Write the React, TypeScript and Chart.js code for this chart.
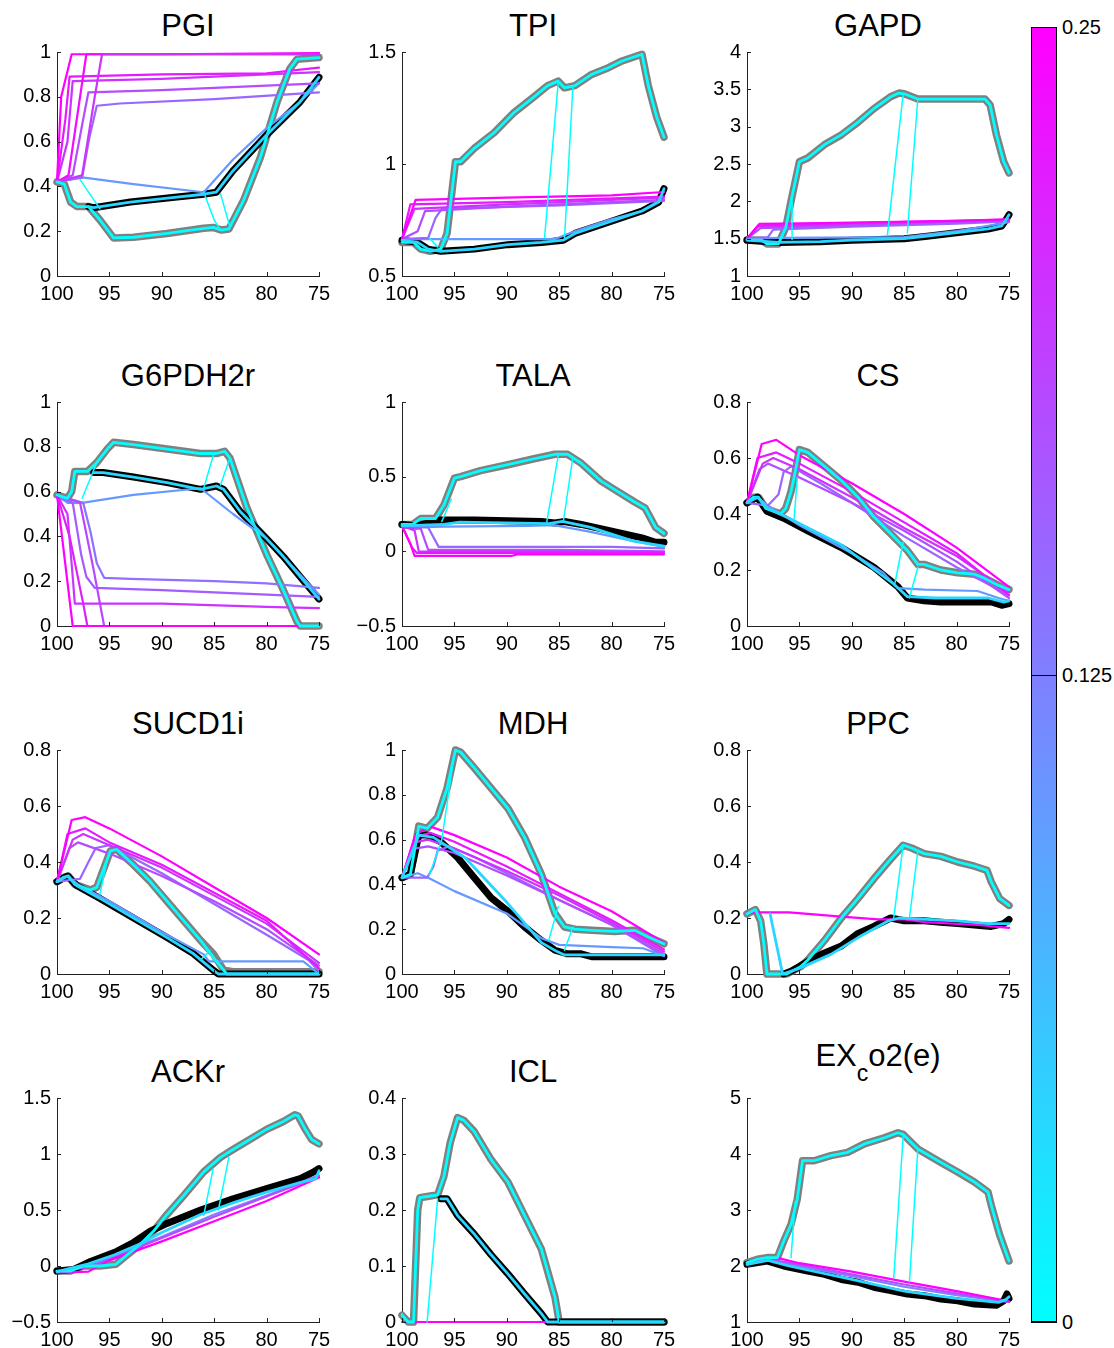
import React, { useEffect, useRef } from "react";
import { Chart, registerables } from "chart.js";
Chart.register(...registerables);

type P = [number, number][];

const FONT = '"Liberation Sans", Arial, Helvetica, sans-serif';
const X_MIN = 75;
const X_MAX = 100;
const X_STEP = 5;
const COLORBAR_MAX = 0.25;
const COLORBAR_TICKS = [0.25, 0.125, 0];
const LOWER_INNER_LEVEL = 0.04;

// ---------- PGI ----------
const PGI_UPPER: P = [[100,0.42],[99.3,0.41],[98.7,0.33],[98.1,0.31],[97,0.31],[95.9,0.25],[94.6,0.17],[92.7,0.173],[89.5,0.19],[86,0.213],[85.1,0.217],[84.3,0.205],[83.6,0.21],[82.2,0.337],[80.6,0.528],[79,0.777],[77.8,0.924],[77.1,0.968],[75,0.975]];
const PGI_LOWER: P = [[97,0.31],[96.5,0.305],[93,0.33],[89,0.35],[86,0.365],[84.8,0.374],[83.2,0.47],[80,0.63],[76.8,0.777],[75,0.887]];
const PGI_LINKS: P[] = [[[97.8,0.43],[95.9,0.30]],[[86,0.374],[85,0.25],[84.4,0.205]],[[84.4,0.367],[83.5,0.22]]];
const PGI_LEVELS = [0.1,0.15,0.175,0.2,0.225,0.25,0.24,0.2];
const PGI_LINES: P[] = [
  [[100,0.42],[97.6,0.44],[92.7,0.41],[86,0.374],[83.2,0.52],[80,0.66],[77,0.77],[75,0.86]],
  [[100,0.42],[97.6,0.44],[96.9,0.62],[96.2,0.76],[94,0.77],[85,0.79],[75,0.82]],
  [[100,0.42],[98.5,0.45],[97.5,0.70],[97,0.82],[90,0.83],[75,0.86]],
  [[100,0.42],[99,0.6],[98.5,0.87],[90,0.88],[75,0.91]],
  [[100,0.42],[99.2,0.7],[98.8,0.89],[90,0.9],[80,0.905],[75,0.93]],
  [[100,0.42],[99.6,0.8],[98.6,0.99],[90,0.99],[75,0.995]],
  [[100,0.42],[98.9,0.45],[97.2,0.99],[75,0.99]],
  [[100,0.42],[97.6,0.45],[96.4,0.8],[95.7,0.99],[75,0.99]],
];

// ---------- TPI ----------
const TPI_UPPER: P = [[100,0.65],[98.9,0.65],[98.2,0.62],[97.3,0.61],[96.3,0.62],[95.7,0.69],[94.9,1.01],[94.4,1.01],[93.1,1.07],[91.2,1.14],[89.3,1.23],[87.4,1.30],[86.1,1.35],[85.1,1.37],[84.5,1.34],[83.5,1.35],[81.9,1.40],[80.3,1.43],[79,1.46],[77.1,1.49],[76.5,1.35],[75.7,1.21],[75,1.12]];
const TPI_LOWER: P = [[100,0.66],[98.5,0.65],[97.5,0.62],[96.3,0.61],[93.1,0.62],[89.9,0.64],[86.7,0.65],[84.6,0.66],[83.5,0.69],[80.3,0.74],[77.1,0.79],[75.5,0.83],[75,0.89]];
const TPI_LINKS: P[] = [[[86.4,0.67],[85.1,1.36]],[[84.5,0.66],[83.7,1.34]],[[97.4,0.67],[96.6,0.63]]];
const TPI_LEVELS = [0.1,0.15,0.175,0.2,0.225,0.25];
const TPI_LINES: P[] = [
  [[100,0.665],[85.4,0.665],[83.5,0.70],[80.3,0.75],[77.1,0.79],[75,0.85]],
  [[100,0.665],[97.5,0.67],[96.8,0.76],[96.2,0.80],[85,0.815],[75,0.835]],
  [[100,0.665],[98.5,0.70],[97.8,0.79],[90,0.81],[75,0.84]],
  [[100,0.665],[98.8,0.80],[90,0.82],[75,0.85]],
  [[100,0.665],[99.2,0.82],[90,0.83],[75,0.855]],
  [[100,0.665],[98.7,0.84],[90,0.85],[80,0.86],[75,0.875]],
];

// ---------- GAPD ----------
const GAPD_UPPER: P = [[100,1.485],[98.6,1.48],[98.1,1.43],[97,1.43],[96.3,1.65],[95.8,2.0],[95,2.53],[94.2,2.58],[92.6,2.76],[91,2.89],[89.4,3.06],[87.9,3.24],[86.3,3.40],[85.5,3.45],[85,3.44],[83.7,3.37],[77.3,3.37],[76.8,3.29],[76.2,2.89],[75.5,2.53],[75,2.38]];
const GAPD_LOWER: P = [[100,1.48],[97,1.45],[93,1.46],[90,1.48],[85,1.50],[83,1.53],[80,1.58],[77,1.63],[75.7,1.67],[75.3,1.75],[75,1.82]];
const GAPD_LINKS: P[] = [[[95.7,1.49],[95.7,2.0]],[[86.6,1.55],[85.1,3.44]],[[84.7,1.58],[83.7,3.37]]];
const GAPD_LEVELS = [0.1,0.15,0.175,0.2,0.225,0.25];
const GAPD_LINES: P[] = [
  [[100,1.5],[97,1.51],[85,1.52],[80,1.60],[75,1.72]],
  [[100,1.5],[98,1.52],[97.5,1.62],[90,1.66],[80,1.70],[75,1.73]],
  [[100,1.5],[98.7,1.64],[90,1.68],[75,1.74]],
  [[100,1.5],[99,1.66],[90,1.70],[75,1.75]],
  [[100,1.5],[98.9,1.68],[90,1.71],[75,1.755]],
  [[100,1.5],[98.8,1.70],[93,1.71],[80,1.74],[75,1.76]],
];

// ---------- G6PDH2r ----------
const G6P_UPPER: P = [[100,0.585],[99,0.57],[98.6,0.60],[98.3,0.69],[97.1,0.69],[96.2,0.73],[95.2,0.79],[94.6,0.82],[92.7,0.81],[89.5,0.79],[86.3,0.77],[84.8,0.77],[84,0.78],[83.5,0.75],[81.9,0.53],[80,0.32],[78.4,0.16],[77.1,0.02],[76.8,0],[75,0]];
const G6P_LOWER: P = [[96.5,0.685],[95.6,0.685],[92.7,0.665],[89.5,0.64],[86.3,0.61],[84.8,0.625],[84.1,0.61],[82.5,0.51],[80,0.39],[78.4,0.31],[76.8,0.22],[75,0.12]];
const G6P_LINKS: P[] = [[[97.6,0.57],[96.2,0.73]],[[86,0.615],[85.1,0.76]],[[84.4,0.63],[83.5,0.75]]];
const G6P_LEVELS = [0.1,0.14,0.16,0.18,0.2,0.22,0.25];
const G6P_LINES: P[] = [
  [[100,0.585],[99,0.55],[97.6,0.55],[92.7,0.585],[86.3,0.615],[83.2,0.50],[80,0.39],[75,0.14]],
  [[100,0.585],[97.5,0.55],[96.8,0.42],[96.2,0.28],[95.5,0.215],[93,0.21],[85,0.20],[80,0.19],[75,0.17]],
  [[100,0.585],[98.5,0.55],[97.7,0.32],[97.2,0.22],[96.4,0.17],[90,0.16],[80,0.14],[75,0.13]],
  [[100,0.585],[97.8,0.55],[96.5,0.25],[95.5,0.0],[75,0.0]],
  [[100,0.585],[99,0.50],[98.5,0.22],[98.3,0.10],[90,0.10],[80,0.085],[75,0.08]],
  [[100,0.585],[98.8,0.40],[97.5,0.1],[97.1,0],[75,0]],
  [[100,0.585],[98.5,0.0],[75,0.0]],
];

// ---------- TALA ----------
const TALA_UPPER: P = [[100,0.18],[99,0.18],[98.2,0.22],[96.8,0.22],[96,0.31],[95,0.49],[94.4,0.50],[92.5,0.54],[89.9,0.58],[87.4,0.62],[85.4,0.65],[84.2,0.65],[82.9,0.59],[81,0.47],[79.4,0.40],[77.8,0.33],[76.8,0.29],[75.8,0.16],[75,0.12]];
const TALA_LOWER: P = [[100,0.18],[98.6,0.17],[96.3,0.21],[93.1,0.21],[86.7,0.20],[85.4,0.19],[84.5,0.20],[82.9,0.18],[80.3,0.14],[77.1,0.09],[75.8,0.06],[75,0.06]];
const TALA_LOWER_INNER: P = [[100,0.17],[96,0.18],[94.5,0.195],[86,0.185],[84.7,0.2],[82,0.16],[78,0.07],[75,0.035]];
const TALA_LINKS: P[] = [[[86.2,0.19],[85.1,0.64]],[[84.6,0.20],[83.7,0.63]],[[96.2,0.2],[95.3,0.35]]];
const TALA_LEVELS = [0.1,0.15,0.175,0.2,0.225,0.25];
const TALA_LINES: P[] = [
  [[100,0.17],[99,0.16],[96,0.165],[88,0.17],[85.5,0.175],[82,0.13],[78,0.07],[75,0.03]],
  [[100,0.17],[97.5,0.16],[96.5,0.03],[90,0.03],[80,0.03],[75,0.02]],
  [[100,0.17],[98.2,0.15],[97.5,0.01],[85,0.01],[75,0.0]],
  [[100,0.17],[98.8,0.14],[98.4,0.0],[75,-0.005]],
  [[100,0.17],[99,0.02],[98.6,-0.01],[75,-0.01]],
  [[100,0.17],[99.2,0.05],[98.8,-0.03],[89.5,-0.03],[89,-0.02],[75,-0.02]],
];

// ---------- CS ----------
const CS_UPPER: P = [[100,0.44],[99.4,0.46],[98.9,0.46],[98.2,0.42],[96.8,0.40],[96.3,0.42],[95.8,0.48],[95.4,0.55],[95,0.63],[94.2,0.62],[92.6,0.57],[91,0.52],[89.4,0.46],[87.9,0.39],[86.3,0.33],[84.7,0.27],[83.7,0.22],[83.1,0.22],[81.5,0.20],[79.9,0.19],[78.3,0.185],[77.3,0.17],[76,0.145],[75,0.13]];
const CS_LOWER: P = [[100,0.44],[99,0.46],[98.1,0.41],[96.5,0.385],[94.2,0.34],[91,0.28],[87.9,0.21],[85.6,0.14],[84.7,0.10],[83.1,0.09],[81.5,0.086],[76.7,0.086],[75.7,0.074],[75,0.08]];
const CS_LOWER_INNER: P = [[100,0.44],[99,0.46],[98,0.42],[96,0.385],[91,0.29],[86,0.15],[84.7,0.105],[82,0.10],[77,0.10],[75.5,0.085],[75,0.09]];
const CS_LINKS: P[] = [[[85.9,0.15],[85.1,0.30]],[[84.5,0.10],[83.7,0.21]],[[95.5,0.385],[95.2,0.53]]];
const CS_LEVELS = [0.1,0.15,0.175,0.2,0.225,0.25];
const CS_LINES: P[] = [
  [[100,0.44],[99,0.46],[98,0.43],[95,0.36],[90,0.26],[87,0.19],[85.6,0.135],[83,0.13],[78,0.125],[76,0.10],[75,0.09]],
  [[100,0.44],[98,0.43],[97,0.47],[96.5,0.55],[95.8,0.57],[93,0.51],[90,0.44],[85,0.32],[80,0.21],[75,0.11]],
  [[100,0.44],[98.8,0.56],[98,0.58],[95,0.53],[90,0.44],[85,0.34],[80,0.23],[75,0.10]],
  [[100,0.44],[98.5,0.58],[97.5,0.60],[95,0.56],[90,0.46],[85,0.35],[80,0.25],[75,0.12]],
  [[100,0.44],[99,0.60],[97.2,0.62],[95,0.58],[90,0.48],[85,0.37],[80,0.26],[75,0.11]],
  [[100,0.44],[98.6,0.65],[97.2,0.665],[95,0.61],[90,0.51],[85,0.40],[80,0.28],[75,0.14]],
];

// ---------- SUCD1i ----------
const SUCD_UPPER: P = [[100,0.33],[99.4,0.345],[98.9,0.35],[98.3,0.32],[96.8,0.30],[96.2,0.31],[95.6,0.37],[94.9,0.44],[94.3,0.445],[92.7,0.39],[91.1,0.33],[89.5,0.26],[87.9,0.19],[86.3,0.12],[85.1,0.073],[84.1,0.014],[83.2,0.008],[75,0.008]];
const SUCD_UPPER_INNER: P = [[100,0.33],[99.4,0.345],[98.9,0.35],[98.3,0.32],[96.8,0.30],[96.2,0.31],[95.6,0.37],[94.9,0.44],[94.3,0.445],[92.7,0.39],[91.1,0.33],[89.5,0.26],[87.9,0.19],[86.3,0.12],[85.1,0.06],[83.8,0],[75,0]];
const SUCD_LOWER: P = [[100,0.33],[99,0.35],[98.1,0.315],[95.9,0.27],[92.7,0.20],[89.5,0.13],[87,0.073],[85.1,0.014],[84.6,0],[75,0]];
const SUCD_LINKS: P[] = [[[95.9,0.285],[95.2,0.41]],[[86.3,0.05],[85.4,0.085]]];
const SUCD_LEVELS = [0.1,0.15,0.175,0.2,0.225,0.25];
const SUCD_LINES: P[] = [
  [[100,0.33],[99,0.35],[98,0.32],[95,0.26],[90,0.15],[86,0.07],[85.5,0.045],[83,0.045],[76.5,0.045],[75,0.0]],
  [[100,0.33],[97.8,0.34],[97,0.40],[96.3,0.45],[95,0.46],[90,0.36],[85,0.25],[80,0.14],[76,0.05],[75,0.01]],
  [[100,0.33],[98.8,0.45],[98,0.47],[95,0.43],[90,0.35],[85,0.26],[80,0.16],[75,0.03]],
  [[100,0.33],[98.5,0.48],[97.5,0.50],[95,0.46],[90,0.38],[85,0.28],[80,0.18],[75,0.04]],
  [[100,0.33],[99,0.50],[97.3,0.52],[95,0.47],[90,0.39],[85,0.29],[80,0.19],[75,0.02]],
  [[100,0.33],[98.6,0.55],[97.3,0.56],[95,0.52],[90,0.42],[85,0.31],[80,0.20],[75,0.07]],
];

// ---------- MDH ----------
const MDH_UPPER: P = [[100,0.43],[99.2,0.445],[98.4,0.66],[97.6,0.65],[96.6,0.70],[95.7,0.83],[94.9,1.0],[94.4,0.99],[93.1,0.92],[91.5,0.83],[89.9,0.74],[88.3,0.61],[86.7,0.445],[85.4,0.27],[84.5,0.21],[83.5,0.20],[81.9,0.195],[79.7,0.19],[77.8,0.195],[76.5,0.165],[75,0.135]];
const MDH_LOWER: P = [[100,0.43],[99.2,0.445],[98.4,0.62],[97.6,0.62],[96.3,0.59],[94.7,0.52],[93.1,0.43],[91.5,0.34],[89.9,0.28],[88.3,0.21],[86.7,0.15],[85.4,0.106],[84.2,0.09],[82.9,0.09],[81.9,0.077],[75,0.077]];
const MDH_LOWER_INNER: P = [[100,0.43],[98.4,0.62],[97,0.61],[94,0.52],[90,0.32],[86.7,0.14],[85.2,0.10],[84.5,0.085],[75,0.085]];
const MDH_LINKS: P[] = [[[86,0.15],[85.1,0.30]],[[84.5,0.106],[83.7,0.21]],[[97.4,0.44],[96.2,0.6],[95.2,0.92]]];
const MDH_LEVELS = [0.1,0.15,0.175,0.2,0.225,0.25];
const MDH_LINES: P[] = [
  [[100,0.43],[98.5,0.45],[97.5,0.43],[95,0.37],[90,0.27],[86.7,0.16],[85,0.13],[80,0.12],[77,0.115],[75,0.08]],
  [[100,0.43],[97.6,0.43],[97,0.48],[96.6,0.55],[95.5,0.57],[93,0.52],[90,0.45],[85,0.33],[80,0.22],[75,0.08]],
  [[100,0.43],[98.8,0.56],[97.5,0.57],[95,0.54],[90,0.44],[85,0.33],[80,0.22],[75,0.09]],
  [[100,0.43],[98.6,0.59],[97.5,0.60],[95,0.56],[90,0.46],[85,0.35],[80,0.23],[75,0.10]],
  [[100,0.43],[98.8,0.61],[97.3,0.63],[95,0.59],[90,0.48],[85,0.36],[80,0.24],[75,0.11]],
  [[100,0.43],[98.7,0.62],[97.4,0.66],[95,0.62],[90,0.52],[85,0.39],[80,0.28],[75,0.14]],
];

// ---------- PPC ----------
const PPC_UPPER: P = [[100,0.215],[99.2,0.23],[98.7,0.19],[98.4,0.11],[98.1,0],[96.2,0],[95.8,0.008],[94.9,0.026],[94.2,0.05],[92.6,0.12],[91,0.20],[89.4,0.27],[87.9,0.34],[86.3,0.41],[85.1,0.46],[84.3,0.45],[83.1,0.43],[81.5,0.42],[79.9,0.40],[78.3,0.385],[77.1,0.37],[76.7,0.33],[75.9,0.27],[75,0.245]];
const PPC_LOWER: P = [[96.5,0],[95.8,0.01],[94.2,0.045],[92.6,0.075],[91,0.10],[89.4,0.145],[87.9,0.17],[86.3,0.20],[85,0.19],[83.1,0.19],[81.5,0.185],[79.9,0.18],[78.3,0.175],[76.7,0.17],[75.5,0.18],[75,0.195]];
const PPC_LOWER_INNER: P = [[97.8,0.215],[96.6,0],[95,0.02],[92,0.07],[89.4,0.13],[86.5,0.19],[85.5,0.20],[80,0.19],[77,0.18],[75,0.18]];
const PPC_LINKS: P[] = [[[86,0.20],[85.1,0.46]],[[84.5,0.2],[83.7,0.44]]];
const PPC_LEVELS = [0.25];
const PPC_LINES: P[] = [
  [[100,0.22],[96,0.22],[94.2,0.215],[91,0.205],[87.5,0.195],[85,0.195],[83,0.185],[78,0.175],[75,0.165]],
];

// ---------- ACKr ----------
const ACK_UPPER: P = [[100,-0.045],[98.7,-0.045],[97.5,0.0],[95.9,0.0],[94.4,0.015],[93.3,0.10],[92.1,0.19],[90.8,0.31],[89.5,0.46],[87.9,0.63],[86,0.84],[84.4,0.97],[83.2,1.04],[81.6,1.13],[80,1.22],[78.4,1.29],[77.3,1.35],[77,1.34],[76.3,1.22],[75.7,1.13],[75,1.09]];
const ACK_LOWER: P = [[100,-0.045],[98.4,-0.03],[96.8,0.04],[94.3,0.13],[92.7,0.21],[91.1,0.31],[89.5,0.38],[86.3,0.50],[83.2,0.60],[80,0.69],[76.8,0.78],[75.5,0.84],[75,0.87]];
const ACK_LOWER_INNER: P = [[100,-0.05],[97,0.02],[94.5,0.10],[92,0.2],[90,0.3],[86.3,0.46],[83,0.57],[80,0.66],[77,0.74],[75.3,0.78],[75,0.85]];
const ACK_LINKS: P[] = [[[86,0.45],[85.1,0.87]],[[84.6,0.50],[83.6,0.97]]];
const ACK_LEVELS = [0.125,0.175,0.25];
const ACK_LINES: P[] = [
  [[100,-0.05],[97,0.0],[95,0.07],[90,0.26],[85,0.46],[80,0.63],[75,0.81]],
  [[100,-0.05],[97,-0.01],[95,0.06],[90,0.25],[85,0.44],[80,0.62],[75,0.80]],
  [[100,-0.06],[97,-0.05],[95,0.05],[90,0.22],[85,0.40],[80,0.58],[75,0.79]],
];

// ---------- ICL ----------
const ICL_UPPER: P = [[100,0.012],[99.4,0.0],[98.9,0.0],[98.5,0.2],[98.3,0.222],[97.3,0.225],[96.6,0.227],[96,0.26],[95.4,0.32],[94.7,0.365],[94.1,0.36],[93.1,0.34],[91.5,0.29],[89.9,0.25],[88.3,0.19],[86.7,0.13],[85.4,0.044],[85,0],[75,0]];
const ICL_LOWER: P = [[96.3,0.22],[95.7,0.22],[94.7,0.19],[93.1,0.157],[91.5,0.12],[89.9,0.086],[88.3,0.05],[86.7,0.015],[86.1,0],[75,0]];
const ICL_LINKS: P[] = [[[97.6,0],[96.6,0.22]],[[100,0.015],[99.5,0]]];
const ICL_LEVELS = [0.25];
const ICL_LINES: P[] = [[[100,0],[75,0]]];

// ---------- EX_co2(e) ----------
const CO2_UPPER: P = [[100,2.06],[99,2.12],[98.1,2.15],[97.1,2.15],[96.5,2.44],[95.8,2.74],[95.2,3.2],[94.7,3.88],[93.6,3.88],[92,3.97],[90.4,4.03],[88.8,4.18],[86.9,4.29],[85.6,4.38],[85.1,4.35],[83.7,4.09],[81.5,3.85],[79.9,3.68],[78.3,3.5],[77,3.32],[76.7,3.09],[75.9,2.56],[75,2.09]];
const CO2_LOWER: P = [[100,2.03],[98.1,2.09],[96.5,2.0],[94.2,1.91],[92.6,1.85],[91,1.76],[89.4,1.71],[87.9,1.62],[86.3,1.56],[84.7,1.50],[83.1,1.47],[81.5,1.41],[79.9,1.38],[78.3,1.32],[76.2,1.30],[75.5,1.38],[75.2,1.50],[75,1.42]];
const CO2_LOWER_INNER: P = [[100,2.03],[98,2.1],[96,2.0],[90,1.76],[85,1.55],[80,1.42],[76,1.35],[75.3,1.40],[75,1.45]];
const CO2_LINKS: P[] = [[[95.8,2.15],[95.4,3.15]],[[86,1.78],[85.1,4.32]],[[84.5,1.72],[83.7,4.09]]];
const CO2_LEVELS = [0.125,0.175,0.25];
const CO2_LINES: P[] = [
  [[100,2.03],[98,2.11],[96,2.03],[90,1.82],[85,1.63],[80,1.48],[75,1.36]],
  [[100,2.03],[98,2.12],[96,2.06],[90,1.85],[85,1.67],[80,1.51],[75,1.36]],
  [[100,2.03],[98,2.13],[97,2.14],[95,2.05],[90,1.90],[85,1.72],[80,1.55],[75,1.37]],
];

type Cfg = {
  key: string; title: React.ReactNode; titleShift?: number;
  yMin: number; yMax: number; yStep: number;
  upper: P; upperInner?: P; lower: P; lowerInner?: P; links: P[]; lines: P[]; levels: number[];
};

const PANELS: Cfg[] = [
  { key: "PGI", title: "PGI", yMin: 0, yMax: 1, yStep: 0.2, upper: PGI_UPPER, lower: PGI_LOWER, links: PGI_LINKS, lines: PGI_LINES, levels: PGI_LEVELS },
  { key: "TPI", title: "TPI", yMin: 0.5, yMax: 1.5, yStep: 0.5, upper: TPI_UPPER, lower: TPI_LOWER, links: TPI_LINKS, lines: TPI_LINES, levels: TPI_LEVELS },
  { key: "GAPD", title: "GAPD", yMin: 1, yMax: 4, yStep: 0.5, upper: GAPD_UPPER, lower: GAPD_LOWER, links: GAPD_LINKS, lines: GAPD_LINES, levels: GAPD_LEVELS },
  { key: "G6PDH2r", title: "G6PDH2r", yMin: 0, yMax: 1, yStep: 0.2, upper: G6P_UPPER, lower: G6P_LOWER, links: G6P_LINKS, lines: G6P_LINES, levels: G6P_LEVELS },
  { key: "TALA", title: "TALA", yMin: -0.5, yMax: 1, yStep: 0.5, upper: TALA_UPPER, lower: TALA_LOWER, lowerInner: TALA_LOWER_INNER, links: TALA_LINKS, lines: TALA_LINES, levels: TALA_LEVELS },
  { key: "CS", title: "CS", yMin: 0, yMax: 0.8, yStep: 0.2, upper: CS_UPPER, lower: CS_LOWER, lowerInner: CS_LOWER_INNER, links: CS_LINKS, lines: CS_LINES, levels: CS_LEVELS },
  { key: "SUCD1i", title: "SUCD1i", yMin: 0, yMax: 0.8, yStep: 0.2, upper: SUCD_UPPER, upperInner: SUCD_UPPER_INNER, lower: SUCD_LOWER, links: SUCD_LINKS, lines: SUCD_LINES, levels: SUCD_LEVELS },
  { key: "MDH", title: "MDH", yMin: 0, yMax: 1, yStep: 0.2, upper: MDH_UPPER, lower: MDH_LOWER, lowerInner: MDH_LOWER_INNER, links: MDH_LINKS, lines: MDH_LINES, levels: MDH_LEVELS },
  { key: "PPC", title: "PPC", yMin: 0, yMax: 0.8, yStep: 0.2, upper: PPC_UPPER, lower: PPC_LOWER, lowerInner: PPC_LOWER_INNER, links: PPC_LINKS, lines: PPC_LINES, levels: PPC_LEVELS },
  { key: "ACKr", title: "ACKr", yMin: -0.5, yMax: 1.5, yStep: 0.5, upper: ACK_UPPER, lower: ACK_LOWER, lowerInner: ACK_LOWER_INNER, links: ACK_LINKS, lines: ACK_LINES, levels: ACK_LEVELS },
  { key: "ICL", title: "ICL", yMin: 0, yMax: 0.4, yStep: 0.1, upper: ICL_UPPER, lower: ICL_LOWER, links: ICL_LINKS, lines: ICL_LINES, levels: ICL_LEVELS },
  {
    key: "EX", titleShift: -16,
    title: (<>EX<span style={{ fontSize: 23, position: "relative", top: 15 }}>c</span>o2(e)</>),
    yMin: 1, yMax: 5, yStep: 1, upper: CO2_UPPER, lower: CO2_LOWER, lowerInner: CO2_LOWER_INNER, links: CO2_LINKS, lines: CO2_LINES, levels: CO2_LEVELS,
  },
];

// layout
const COL_LEFT = [57, 402, 747];
const ROW_TOP = [49, 399, 747, 1095];
const PLOT_W = 262;
const PLOT_H = 227;
const AXIS_W = 57;
const AXIS_H = 33;
const PAD_T = 15;
const PAD_R = 20;
const TITLE_SIZE = 31;
const TICK_SIZE = 20;
const CB_LEFT = 1031;
const CB_TOP = 27;
const CB_W = 26;
const CB_H = 1295;

function cool(v: number): string {
  const t = Math.max(0, Math.min(1, v / COLORBAR_MAX));
  return `rgb(${Math.round(255 * t)},${Math.round(255 * (1 - t))},255)`;
}

function fmt(v: number): string {
  const r = Math.round(v * 1000) / 1000;
  return r < 0 ? "\u2212" + String(-r) : String(r);
}

function ds(pts: P, color: string, width: number) {
  return {
    data: pts.map(([x, y]) => ({ x, y })),
    borderColor: color,
    backgroundColor: color,
    borderWidth: width,
    pointRadius: 0,
    pointHoverRadius: 0,
    tension: 0,
    fill: false,
    clip: false as any,
    showLine: true,
    borderJoinStyle: "round" as const,
    borderCapStyle: "round" as const,
  };
}

const inwardTicks = {
  id: "inwardTicks",
  afterDraw(chart: any) {
    const { ctx, chartArea, scales } = chart;
    ctx.save();
    ctx.strokeStyle = "#222";
    ctx.lineWidth = 1;
    for (const t of scales.x.ticks) {
      const px = Math.round(scales.x.getPixelForValue(t.value)) + 0.5;
      ctx.beginPath();
      ctx.moveTo(px, chartArea.bottom);
      ctx.lineTo(px, chartArea.bottom - 4);
      ctx.stroke();
    }
    for (const t of scales.y.ticks) {
      const py = Math.round(scales.y.getPixelForValue(t.value)) + 0.5;
      ctx.beginPath();
      ctx.moveTo(chartArea.left, py);
      ctx.lineTo(chartArea.left + 4, py);
      ctx.stroke();
    }
    ctx.restore();
  },
};

function Panel({ cfg, left, top }: { cfg: Cfg; left: number; top: number }) {
  const ref = useRef<HTMLCanvasElement | null>(null);
  useEffect(() => {
    if (!ref.current) return;
    const bottomUp: any[] = [];
    bottomUp.push(ds(cfg.upper, "#808080", 7.5));
    bottomUp.push(ds(cfg.lower, "#000000", 7));
    cfg.lines.forEach((pts, i) => bottomUp.push(ds(pts, cool(cfg.levels[i]), 2.2)));
    cfg.links.forEach((pts) => bottomUp.push(ds(pts, "#00ffff", 1.5)));
    bottomUp.push(ds(cfg.upperInner || cfg.upper, "#00ffff", 2.8));
    bottomUp.push(ds(cfg.lowerInner || cfg.lower, cool(LOWER_INNER_LEVEL), 2.8));
    const datasets = bottomUp.reverse();
    const tickFont = { family: FONT, size: TICK_SIZE };
    const chart = new Chart(ref.current, {
      type: "line",
      data: { datasets },
      options: {
        animation: false,
        responsive: false,
        events: [],
        layout: { padding: { top: PAD_T, right: PAD_R, left: 0, bottom: 0 } },
        plugins: { legend: { display: false }, tooltip: { enabled: false }, title: { display: false } },
        scales: {
          x: {
            type: "linear", reverse: true, min: X_MIN, max: X_MAX,
            grid: { display: false, drawTicks: false, tickLength: 0 },
            border: { display: true, color: "#222", width: 1 },
            ticks: { stepSize: X_STEP, padding: 6, font: tickFont, color: "#000", maxRotation: 0, autoSkip: false, callback: (v: any) => fmt(Number(v)) },
            afterFit: (s: any) => { s.height = AXIS_H; },
          },
          y: {
            type: "linear", min: cfg.yMin, max: cfg.yMax,
            grid: { display: false, drawTicks: false, tickLength: 0 },
            border: { display: true, color: "#222", width: 1 },
            ticks: { stepSize: cfg.yStep, padding: 6, font: tickFont, color: "#000", autoSkip: false, callback: (v: any) => fmt(Number(v)) },
            afterFit: (s: any) => { s.width = AXIS_W; },
          },
        },
      } as any,
      plugins: [inwardTicks],
    });
    return () => chart.destroy();
  }, [cfg]);
  return (
    <canvas
      ref={ref}
      width={AXIS_W + PLOT_W + PAD_R}
      height={PAD_T + PLOT_H + AXIS_H}
      style={{ position: "absolute", left, top }}
    />
  );
}

export default function App() {
  return (
    <div style={{ position: "absolute", left: 0, top: 0, width: 1114, height: 1348, background: "#fff", fontFamily: FONT, color: "#000", overflow: "hidden" }}>
      {PANELS.map((cfg, i) => {
        const r = Math.floor(i / 3);
        const c = i % 3;
        const pl = COL_LEFT[c];
        const pt = ROW_TOP[r];
        return (
          <React.Fragment key={cfg.key}>
            <div style={{ position: "absolute", left: pl - 20, width: PLOT_W + 40, top: pt - 39 + (cfg.titleShift || 0), textAlign: "center", fontSize: TITLE_SIZE, lineHeight: `${TITLE_SIZE}px`, whiteSpace: "nowrap" }}>
              {cfg.title}
            </div>
            <Panel cfg={cfg} left={pl - AXIS_W} top={pt - PAD_T} />
          </React.Fragment>
        );
      })}
      <div style={{ position: "absolute", left: CB_LEFT, top: CB_TOP, width: CB_W, height: CB_H, boxSizing: "border-box", border: "1px solid #000", background: "linear-gradient(to top, #00ffff, #ff00ff)" }} />
      {COLORBAR_TICKS.map((v) => {
        const y = CB_TOP + (1 - v / COLORBAR_MAX) * CB_H;
        return (
          <React.Fragment key={v}>
            <div style={{ position: "absolute", left: CB_LEFT, top: Math.round(y) - 0.5, width: CB_W, height: 1, background: "#000" }} />
            <div style={{ position: "absolute", left: CB_LEFT + CB_W + 5, top: y - 12, fontSize: TICK_SIZE, lineHeight: "24px" }}>{fmt(v)}</div>
          </React.Fragment>
        );
      })}
    </div>
  );
}
